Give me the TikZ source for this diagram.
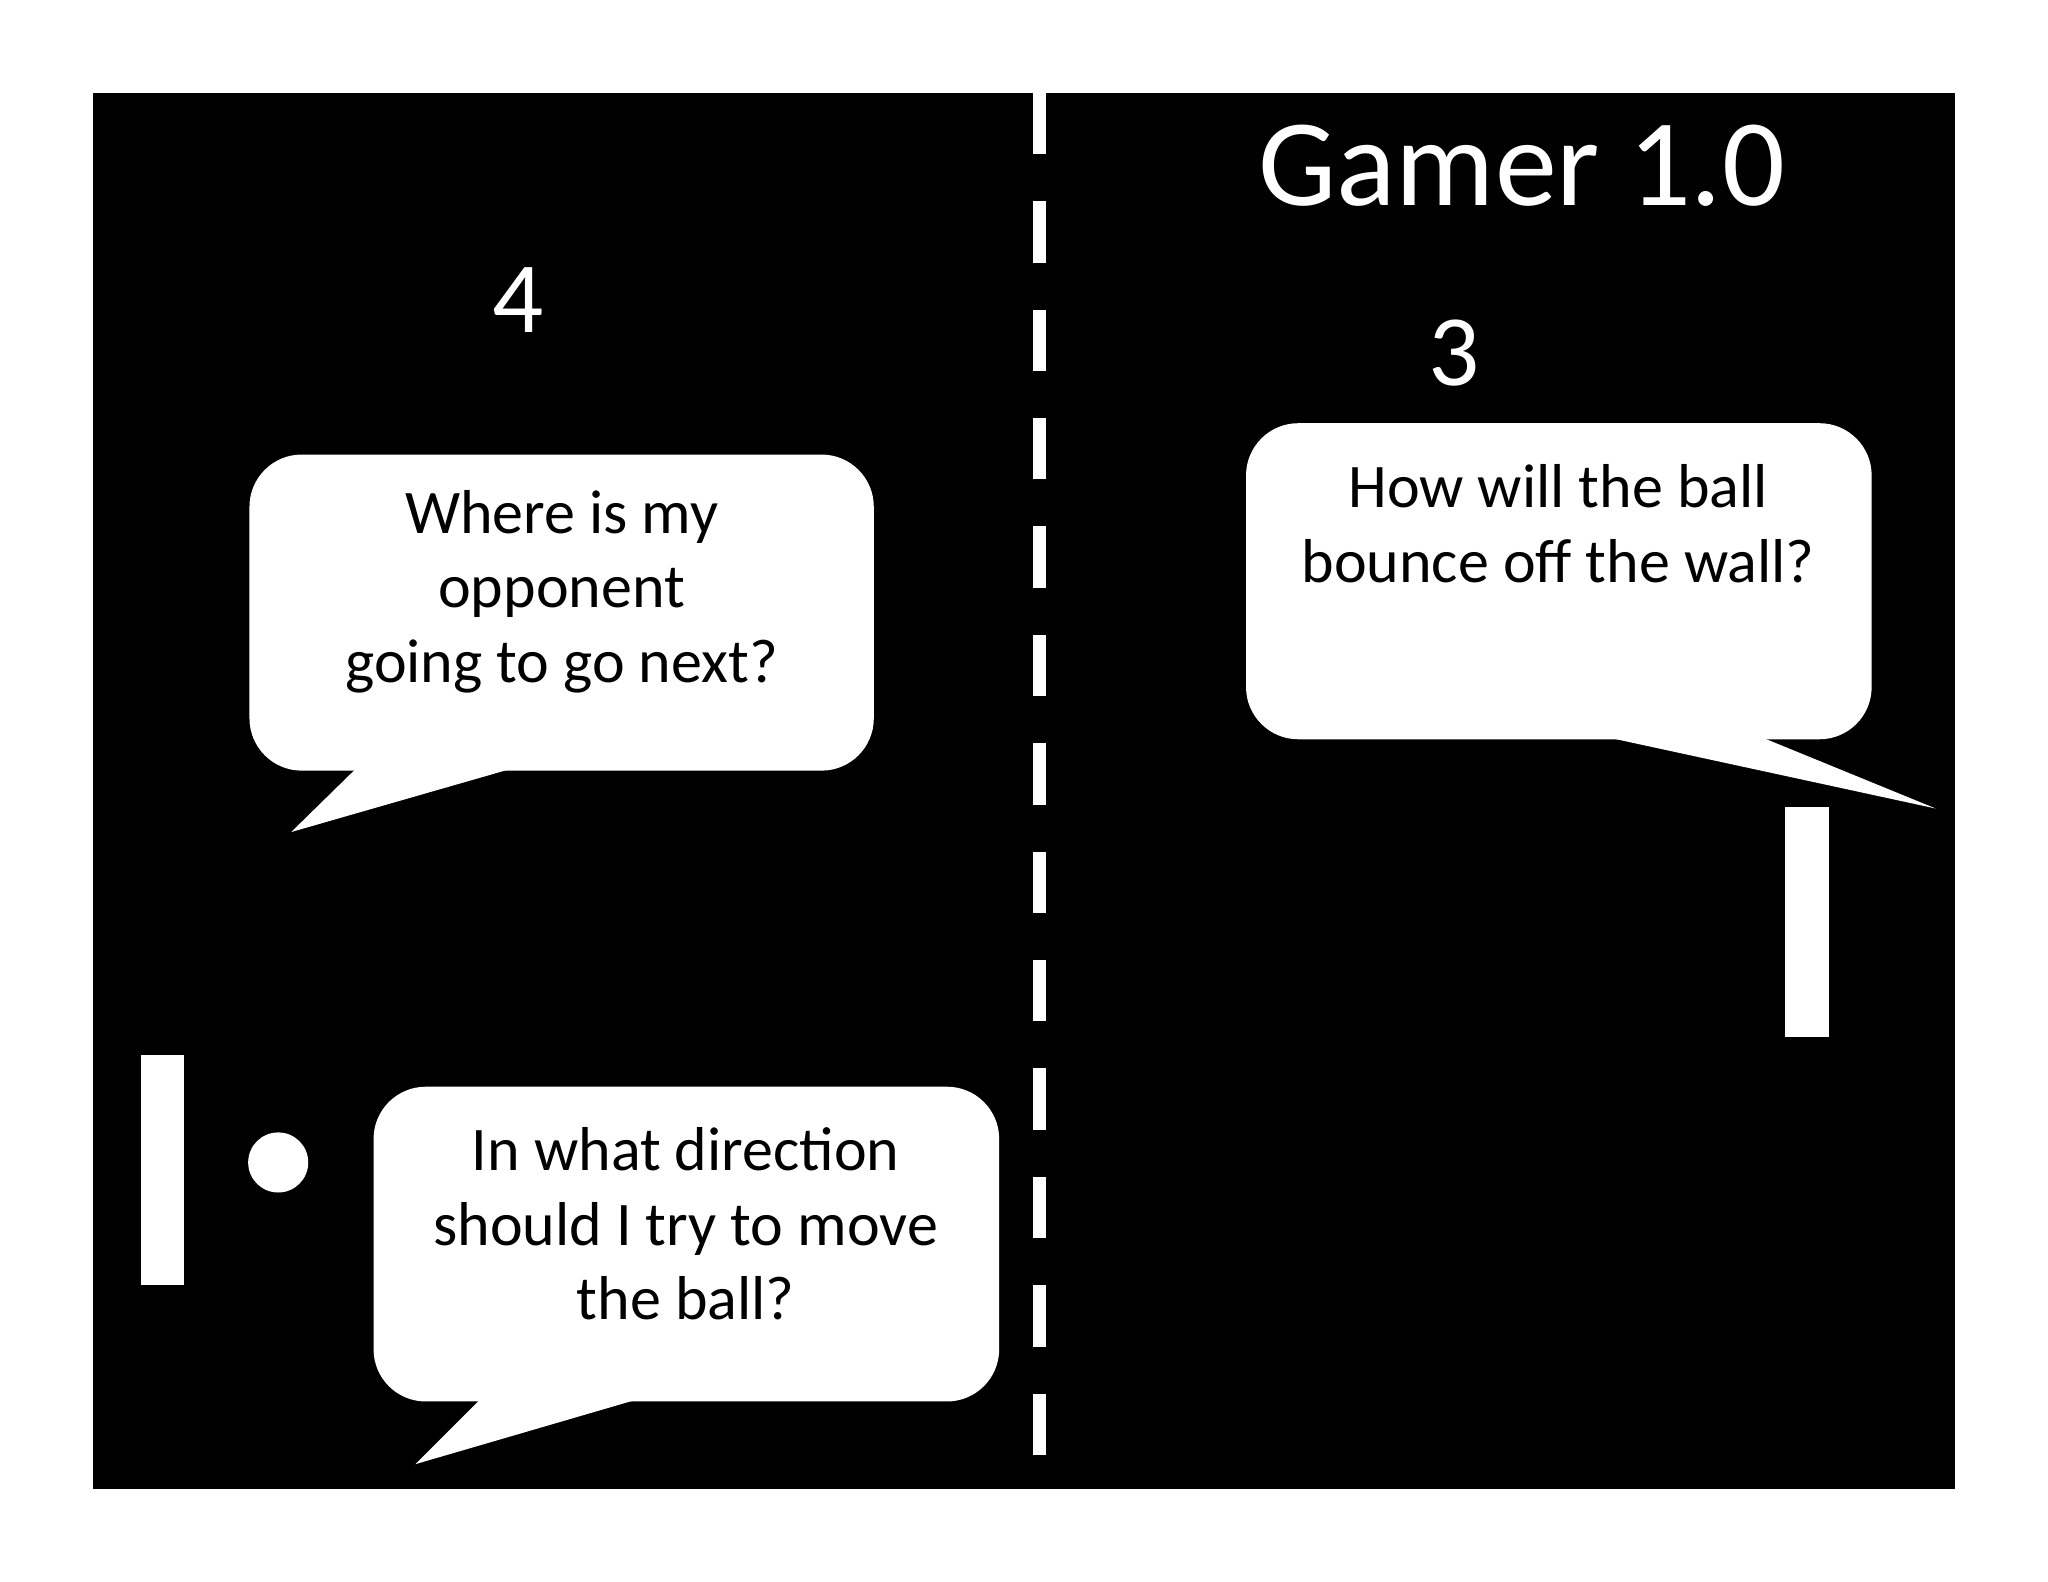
\documentclass[tikz,border=0pt]{standalone}
\usepackage{fontspec}
\setmainfont{Carlito}
\begin{document}
\begin{tikzpicture}[x=0.01cm,y=-0.01cm,
  bub/.style={fill=white,rounded corners=40*0.01cm},
  btxt/.style={font=\fontsize{13.5}{16.2}\selectfont,align=center,text=black},
  score/.style={font=\fontsize{22}{24}\selectfont,text=white}]
\useasboundingbox (0,0) rectangle (1568,1211);
\fill[white] (0,0) rectangle (1568,1211);
\fill[black] (71,71) rectangle (1497,1140);
% center dashed line
\draw[white,line width=10*0.01cm,dash pattern=on 47*0.01cm off 36*0.01cm] (796,71) -- (796,1115);
% paddles and ball
\fill[white] (108,808) rectangle (141,984);
\fill[white] (1367,618) rectangle (1400,794);
\node[circle,fill=white,minimum size=46*0.01cm,inner sep=0] (ball) at (213,890) {};
% bubbles
\fill[bub] (191,348) rectangle (669,590);
\fill[white] (272,589) -- (223,637) -- (390,589) -- cycle;
\fill[bub] (286,832) rectangle (765,1073);
\fill[white] (367,1072) -- (318,1121) -- (486,1072) -- cycle;
\fill[bub] (954,324) rectangle (1433,566);
\fill[white] (1233,565) -- (1482,619) -- (1350,565) -- cycle;
\node[btxt] (q1) at (430,453) {Where is my\\opponent\\going to go next?};
\node[btxt] (q2) at (525,937) {In what direction\\should I try to move\\the ball?};
\node[btxt] (q3) at (1193,401) {How will the ball\\bounce off the wall?};
% scores
\node[score] (s1) at (397,230) {4};
\node[score] (s2) at (1113,270) {3};
\node[font=\fontsize{27}{30}\selectfont,text=white] (title) at (1165,127) {Gamer 1.0};
\end{tikzpicture}
\end{document}
